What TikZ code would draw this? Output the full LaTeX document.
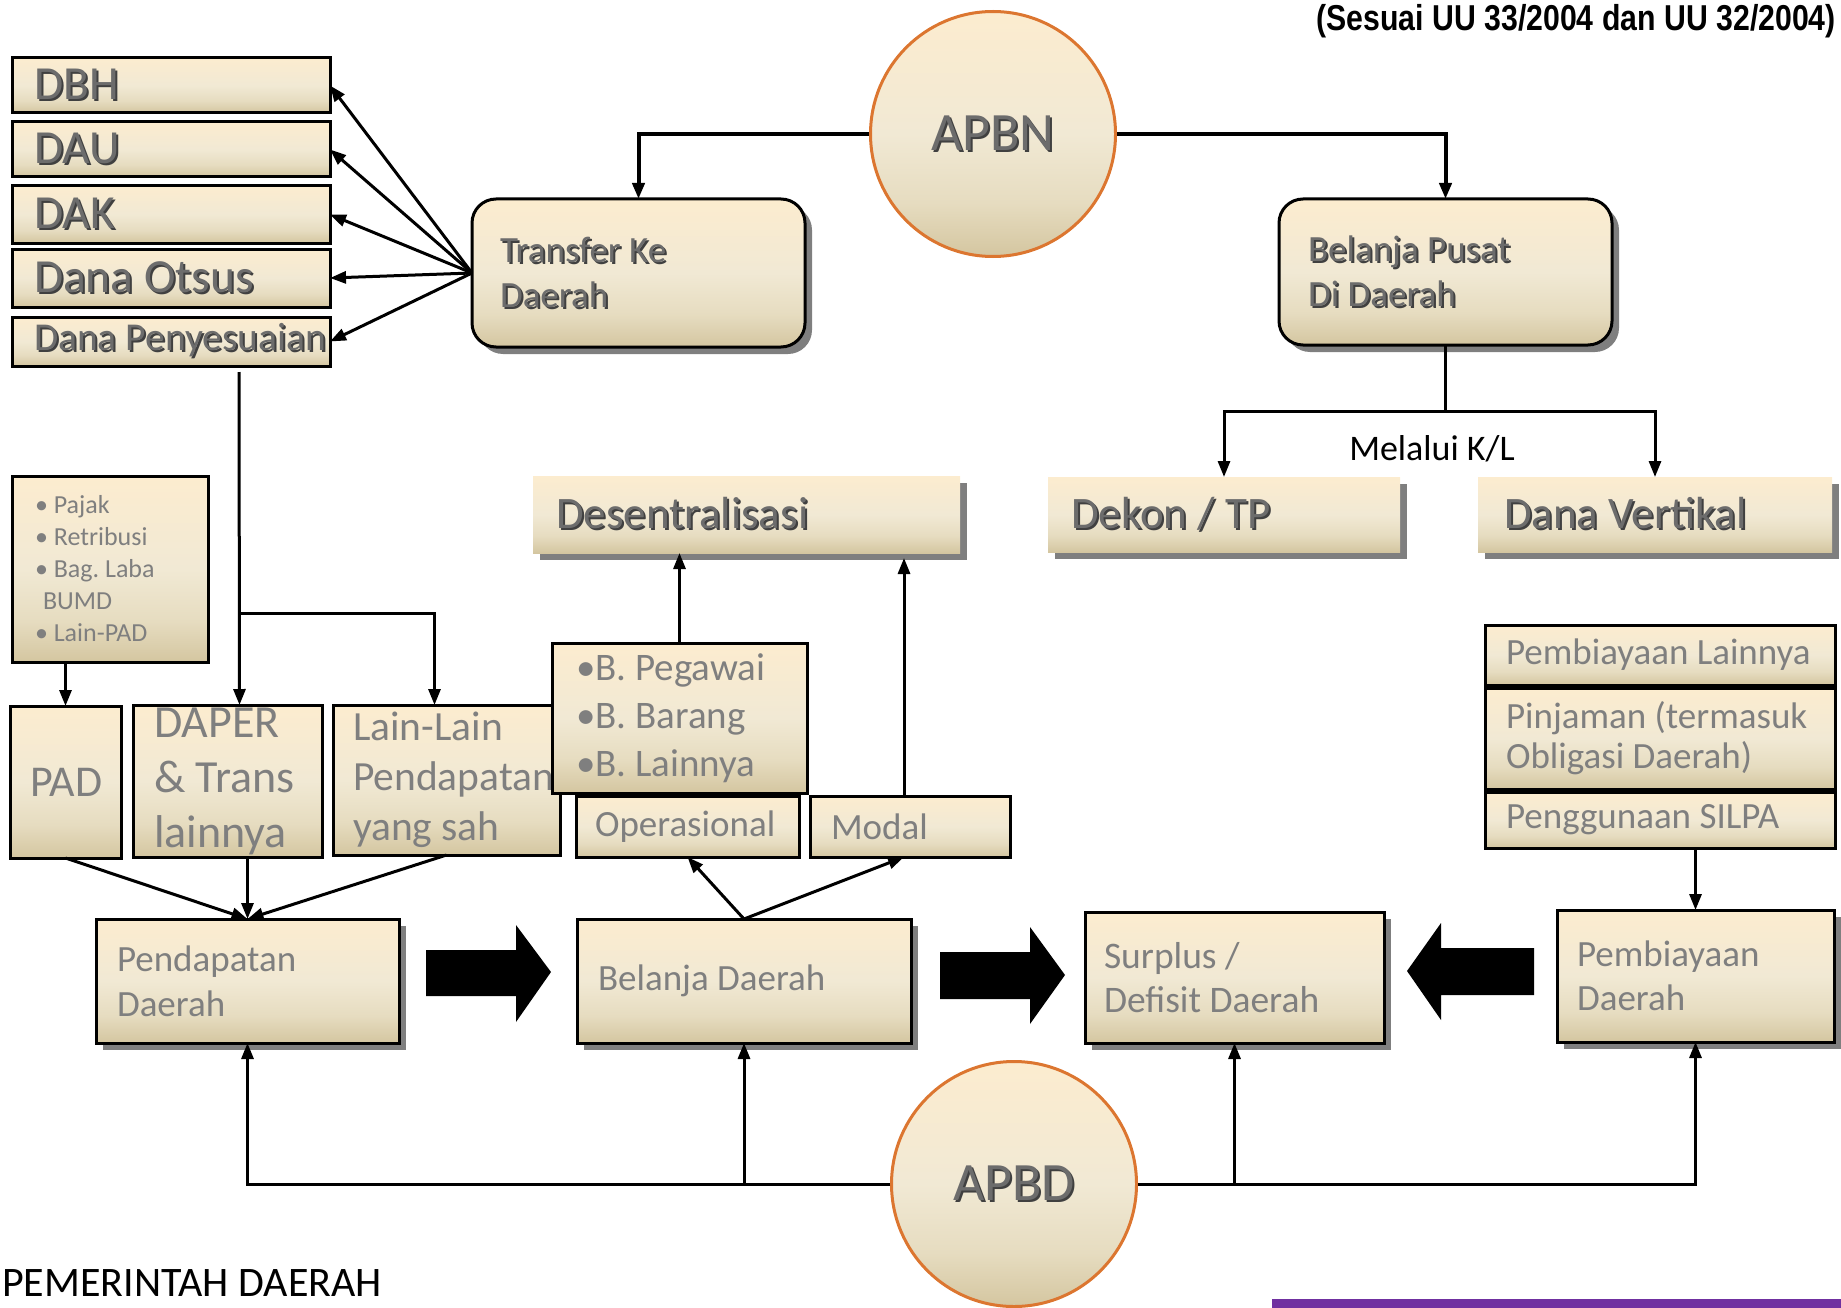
\documentclass[tikz,border=0pt]{standalone}
\usepackage{fontspec}
\setmainfont{Carlito}
\newfontfamily\titlefont[FakeStretch=0.84]{Liberation Sans}
\usetikzlibrary{arrows.meta, shadows, positioning}

\hyphenpenalty=10000
\exhyphenpenalty=10000

\definecolor{boxTop}{RGB}{252,236,207}
\definecolor{boxMid}{RGB}{241,233,212}
\definecolor{boxLow}{RGB}{230,220,192}
\definecolor{boxBot}{RGB}{212,198,160}
\definecolor{txtDark}{RGB}{108,108,108}
\definecolor{txtLight}{RGB}{127,127,127}
\definecolor{ringEdge}{RGB}{220,118,48}
\definecolor{barPurple}{RGB}{112,48,160}

\pgfdeclareverticalshading{cream}{100bp}{color(0bp)=(boxBot); color(25bp)=(boxBot); color(36bp)=(boxLow); color(50bp)=(boxMid); color(75bp)=(boxTop); color(100bp)=(boxTop)}

\newcommand{\shadowed}[1]{\makebox[0pt][l]{\hspace{2pt}\raisebox{-2pt}{\textcolor{black!75}{#1}}}\mbox{#1}}

\tikzset{
  fundbox/.style={shade, shading=cream, draw=black, line width=3pt, anchor=north west,
    outer sep=0pt, inner xsep=22pt, inner ysep=2pt, align=flush left, text=txtLight,
    font=\fontsize{37}{45}\selectfont},
  danabox/.style={fundbox, text=txtDark, font=\fontsize{47.5}{52}\selectfont},
  boxshadow/.style={drop shadow={shadow xshift=7pt, shadow yshift=-7pt, fill=black, opacity=.5}},
  roundbox/.style={fundbox, boxshadow, rounded corners=24pt, text=txtDark, font=\fontsize{37}{45}\selectfont},
  flatbox/.style={fundbox, boxshadow, draw=none, text=txtDark, font=\fontsize{45}{50}\selectfont},
  mainbox/.style={fundbox, boxshadow},
  budget/.style={circle, shade, shading=cream, draw=ringEdge, line width=3pt, minimum size=245pt,
    inner sep=0pt, text=txtDark, font=\fontsize{54}{60}\selectfont},
  conn/.style={draw, line width=3pt, -{Triangle[length=16pt,width=12pt]}}
}

\begin{document}
\begin{tikzpicture}[x=1pt, y=-1pt]
\useasboundingbox (0,0) rectangle (1841,1308);

% APBN side
\node[budget] (apbn) at (993,134) {\shadowed{APBN}};
\node[roundbox, minimum width=333pt, minimum height=148pt, inner xsep=28pt, text width=277pt] (transfer) at (472,199) {\shadowed{Transfer~Ke}\\\shadowed{Daerah}};
\node[roundbox, minimum width=333pt, minimum height=146pt, inner xsep=29pt, text width=275pt] (belanjapusat) at (1279,199) {\shadowed{Belanja~Pusat}\\\shadowed{Di~Daerah}};

\node[danabox, minimum width=318pt, minimum height=55pt, text width=274pt] (dbh) at (12,58) {\shadowed{DBH}};
\node[danabox, minimum width=318pt, minimum height=55pt, text width=274pt] (dau) at (12,122) {\shadowed{DAU}};
\node[danabox, minimum width=318pt, minimum height=57pt, text width=274pt] (dak) at (12,186) {\shadowed{DAK}};
\node[danabox, minimum width=318pt, minimum height=58pt, text width=274pt] (otsus) at (12,249) {\shadowed{Dana~Otsus}};
\node[danabox, minimum width=318pt, minimum height=49pt, text width=274pt, font=\fontsize{39.5}{44}\selectfont] (penyesuaian) at (12,317) {\shadowed{Dana~Penyesuaian}};

\node[flatbox, minimum width=427pt, minimum height=77pt, inner xsep=23pt, text width=381pt] (desentral) at (533,476) {\shadowed{Desentralisasi}};
\node[flatbox, minimum width=352pt, minimum height=75pt, inner xsep=23pt, text width=306pt] (dekon) at (1048,477) {\shadowed{Dekon~/~TP}};
\node[flatbox, minimum width=354pt, minimum height=75pt, inner xsep=26pt, text width=302pt] (vertikal) at (1478,477) {\shadowed{Dana~Vertikal}};
\node[font=\fontsize{36}{40}\selectfont] (kl) at (1432,449) {Melalui K/L};

% pendapatan
\node[fundbox, minimum width=196pt, minimum height=186pt, inner xsep=23pt, text width=150pt, font=\fontsize{26}{32}\selectfont] (pajak) at (12,476)
  {\textbullet~Pajak\\\textbullet~Retribusi\\\textbullet~Bag.~Laba\\\hspace*{8pt}BUMD\\\textbullet~Lain-PAD};
\node[fundbox, minimum width=111pt, minimum height=152pt, inner xsep=20pt, text width=71pt, font=\fontsize{44}{50}\selectfont] (pad) at (10,706) {PAD};
\node[fundbox, minimum width=189pt, minimum height=152pt, inner xsep=21pt, text width=147pt, font=\fontsize{46}{55}\selectfont] (daper) at (133,705) {DAPER\\\&~Trans\\lainnya};
\node[fundbox, minimum width=227pt, minimum height=150pt, inner xsep=20pt, text width=187pt, font=\fontsize{41.5}{50}\selectfont] (lainlain) at (333,705) {Lain-Lain\\Pendapatan\\yang~sah};

% belanja
\node[fundbox, minimum width=255pt, minimum height=150pt, inner xsep=24pt, text width=207pt, font=\fontsize{39}{48}\selectfont] (pegawai) at (552,643)
  {\textbullet B.~Pegawai\\\textbullet B.~Barang\\\textbullet B.~Lainnya};
\node[fundbox, minimum width=223pt, minimum height=61pt, inner xsep=19pt, text width=185pt] (operasional) at (576,796) {Operasional};
\node[fundbox, minimum width=200pt, minimum height=61pt, inner xsep=21pt, text width=158pt] (modal) at (810,796) {Modal};

% pembiayaan
\node[fundbox, minimum width=350pt, minimum height=60pt, inner xsep=21pt, text width=308pt] (pemblain) at (1485,625) {Pembiayaan~Lainnya};
\node[fundbox, minimum width=350pt, minimum height=101pt, inner xsep=21pt, text width=308pt, font=\fontsize{37}{40}\selectfont] (pinjaman) at (1485,688) {Pinjaman~(termasuk\\Obligasi~Daerah)};
\node[fundbox, minimum width=350pt, minimum height=56pt, inner xsep=21pt, text width=308pt] (silpa) at (1485,792) {Penggunaan~SILPA};

% APBD row
\node[mainbox, minimum width=303pt, minimum height=124pt, inner xsep=21pt, text width=261pt] (pendapatan) at (96,919) {Pendapatan\\Daerah};
\node[mainbox, minimum width=334pt, minimum height=124pt, inner xsep=21pt, text width=292pt] (belanjadaerah) at (577,919) {Belanja~Daerah};
\node[mainbox, minimum width=299pt, minimum height=131pt, inner xsep=19pt, text width=261pt, font=\fontsize{37.5}{44}\selectfont] (surplus) at (1085,912) {Surplus~/\\Defisit~Daerah};
\node[mainbox, minimum width=277pt, minimum height=132pt, inner xsep=20pt, text width=237pt, font=\fontsize{37}{44}\selectfont] (pembdaerah) at (1557,910) {Pembiayaan\\Daerah};
\node[budget] (apbd) at (1014,1184) {\shadowed{APBD}};

\fill (426,950) -- (516,950) -- (516,925) -- (551,972) -- (516,1022) -- (516,996) -- (426,996) -- cycle;
\fill (940,952) -- (1030,952) -- (1030,927) -- (1065,975) -- (1030,1024) -- (1030,999) -- (940,999) -- cycle;
\fill (1534,948) -- (1441,948) -- (1441,923) -- (1407,971) -- (1441,1020) -- (1441,995) -- (1534,995) -- cycle;

% connectors
\draw[conn, line width=4pt] (apbn.west) -| (transfer.north);
\draw[conn, line width=4pt] (apbn.east) -| (belanjapusat.north);
\foreach \t in {dbh,dau,dak,otsus,penyesuaian}
  \draw[conn] (transfer.west) -- (\t.east);

\draw[line width=3pt] (belanjapusat.south) -- ++(0,66) coordinate (kfork);
\draw[conn] (kfork) -| (dekon.north);
\draw[conn] (kfork) -| (vertikal.north);

\draw[conn] ([xshift=68pt,yshift=-6pt]penyesuaian.south) -- ([xshift=12pt]daper.north);
\coordinate (fork) at (239,613);
\draw[conn] (fork) -| ([xshift=-12pt]lainlain.north);
\draw[conn] (pajak.south -| pad.north) -- (pad.north);

\draw[conn] (pad.south) -- (pendapatan.north);
\draw[conn] (daper.south -| pendapatan.north) -- (pendapatan.north);
\draw[conn] (lainlain.south) -- (pendapatan.north);

\draw[conn] (belanjadaerah.north) -- (operasional.south);
\draw[conn] (belanjadaerah.north) -- ([xshift=-6pt]modal.south);
\draw[conn] (pegawai.north) -- (pegawai.north |- desentral.south);
\draw[conn] ([xshift=-6pt]modal.north) -- ([xshift=-6pt,yshift=-5pt]modal.north |- desentral.south);

\draw[conn] (silpa.south -| pembdaerah.north) -- (pembdaerah.north);

\foreach \t in {pendapatan,belanjadaerah}
  \draw[conn] (apbd.west) -| (\t.south);
\foreach \t in {surplus,pembdaerah}
  \draw[conn] (apbd.east) -| (\t.south);

% captions
\node[anchor=north east, inner sep=0pt, font=\titlefont\bfseries\fontsize{36}{40}\selectfont] (title) at (1836,4) {(Sesuai UU 33/2004 dan UU 32/2004)};
\node[anchor=base west, inner sep=0pt, font=\fontsize{42}{46}\selectfont] (pemda) at (2,1296) {PEMERINTAH DAERAH};
\fill[barPurple] (1272,1299) rectangle (1841,1308);

\end{tikzpicture}
\end{document}
